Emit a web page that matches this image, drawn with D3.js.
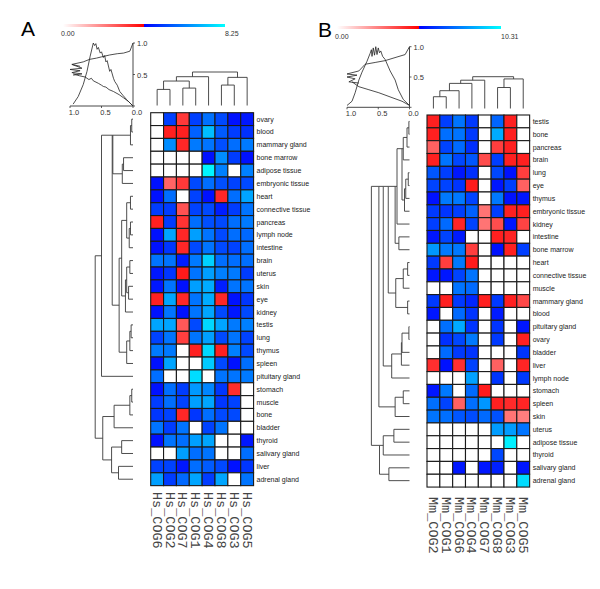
<!DOCTYPE html>
<html><head><meta charset="utf-8">
<script src="https://cdn.jsdelivr.net/npm/d3@7"></script>
<style>body{margin:0;background:#fff}svg{display:block}</style>
</head><body>
<svg id="c" width="600" height="589"></svg>
<script>
// ---------------- DATA ----------------
const tissuesA = ["ovary","blood","mammary gland","bone marrow","adipose tissue","embryonic tissue","heart","connective tissue","pancreas","lymph node","intestine","brain","uterus","skin","eye","kidney","testis","lung","thymus","spleen","pituitary gland","stomach","muscle","bone","bladder","thyroid","salivary gland","liver","adrenal gland"];
const colsA = ["Hs_COG6","Hs_COG2","Hs_COG7","Hs_COG1","Hs_COG4","Hs_COG8","Hs_COG3","Hs_COG5"];
const valuesA = [
 [0,5.15,3.2,5.15,5.95,5.3,4.4,4.5],
 [0,3.6,3.6,5.7,7.2,5.6,5.1,4.9],
 [0,6.4,3.5,6.1,6.0,5.4,5.9,6.1],
 [0,0,0,0,4.4,6.4,5.1,4.4],
 [0,0,0,0,8.1,6.2,0,6.2],
 [4.4,2.5,3.2,5.3,5.9,5.4,5.2,5.3],
 [4.4,5.9,0,5.2,4.4,3.5,5.9,6.8],
 [5.1,5.1,2.8,5.2,5.3,4.6,5.1,6.0],
 [3.6,5.1,3.3,5.9,5.4,5.3,5.9,6.1],
 [4.4,6.8,3.5,6.7,6.0,5.3,5.9,5.8],
 [4.4,5.0,3.5,5.3,6.0,5.3,5.2,5.9],
 [6.0,6.0,4.6,6.1,7.5,5.9,5.9,5.9],
 [4.5,5.0,3.7,6.0,6.7,6.2,6.1,5.1],
 [4.5,6.0,4.4,6.7,6.9,4.6,6.0,6.0],
 [3.6,6.8,3.5,6.0,6.9,3.5,4.4,5.0],
 [4.4,6.0,4.4,6.0,6.8,5.3,4.5,5.3],
 [6.8,6.8,2.7,5.3,7.6,6.8,6.1,6.2],
 [5.2,6.0,3.1,6.0,6.7,5.3,6.0,5.2],
 [6.1,6.1,0,3.6,7.6,3.6,6.2,5.3],
 [4.4,6.8,0,0,7.4,5.3,4.4,5.9],
 [5.9,0,0,7.7,0,6.0,6.0,6.1],
 [4.4,5.9,5.1,6.6,6.3,5.0,3.4,0],
 [5.1,5.9,5.2,6.7,6.8,5.0,5.2,0],
 [5.0,5.2,3.5,5.0,5.9,5.3,5.3,0],
 [6.0,5.1,6.0,0,5.2,6.0,0,0],
 [4.4,6.0,5.9,6.7,6.8,0,0,4.5],
 [0,0,6.7,5.9,6.0,0,0,5.9],
 [5.2,5.2,4.5,5.9,5.6,5.3,4.4,5.0],
 [6.7,5.1,5.8,6.8,5.1,6.8,0,6.0]
];
const maxA = 8.25;
const keyLabelsA = ["0.00","8.25"];

const tissuesB = ["testis","bone","pancreas","brain","lung","eye","thymus","embryonic tissue","kidney","intestine","bone marrow","heart","connective tissue","muscle","mammary gland","blood","pituitary gland","ovary","bladder","liver","lymph node","stomach","spleen","skin","uterus","adipose tissue","thyroid","salivary gland","adrenal gland"];
const colsB = ["Mm_COG2","Mm_COG1","Mm_COG6","Mm_COG4","Mm_COG7","Mm_COG8","Mm_COG3","Mm_COG5"];
const valuesB = [
 [4.5,6.4,7.5,6.3,0,7.2,4.5,0],
 [4.5,7.4,7.5,6.3,0,8.6,4.5,0],
 [3.2,6.5,7.3,6.1,0,3.9,4.5,0],
 [4.5,7.5,6.6,6.9,3.6,6.4,4.5,4.5],
 [6.9,6.4,5.6,6.1,0,6.6,5.5,3.9],
 [6.5,6.5,6.2,4.6,0,5.6,6.4,3.2],
 [5.5,7.6,7.6,6.5,0,7.6,5.5,5.6],
 [6.3,6.2,6.4,7.1,2.8,6.4,4.5,4.5],
 [6.4,7.3,4.4,6.5,2.8,3.6,5.6,3.8],
 [5.6,6.5,5.7,0,0,4.5,4.4,0],
 [8.2,7.6,7.6,3.9,0,5.5,4.5,6.4],
 [6.3,3.9,7.6,4.6,0,0,0,0],
 [5.6,5.6,6.5,7.5,0,0,0,0],
 [0,0,7.5,7.3,0,0,0,0],
 [6.3,4.5,6.3,5.9,4.5,6.3,4.5,3.7],
 [5.6,0,7.3,6.2,0,5.7,0,0],
 [0,7.4,8.6,6.2,0,6.2,0,5.6],
 [0,6.1,6.6,7.6,0,6.3,0,4.5],
 [0,7.3,6.3,6.2,0,0,0,6.2],
 [4.2,5.5,4.2,6.5,0,3.2,0,4.4],
 [0,0,0,8.4,0,6.2,0,6.3],
 [5.6,7.6,0,7.3,4.6,0,0,0],
 [7.4,6.5,3.2,7.4,8.2,4.5,4.3,4.4],
 [7.5,7.4,6.9,6.7,7.3,6.8,2.8,2.6],
 [0,0,0,0,0,8.3,8.3,7.5],
 [0,0,0,0,0,0,10.0,0],
 [0,0,0,0,0,6.6,0,0],
 [0,0,5.6,0,5.6,5.8,0,5.6],
 [0,0,0,0,0,0,0,9.6]
];
const maxB = 10.31;
const keyLabelsB = ["0.00","10.31"];

// dendrograms: [left, right, height, anchoredToFirstChild?]; leaves are row/column indices
const rowTreeA = [
 [
  [
   [
    [[0,1,0.02],2,0.04],
    [[3,4,0.15],5,0.17],
    0.32, 1],
   [
    [
     [[6,7,0.04],[[8,9,0.04],10,0.06],0.1],
     [[[11,12,0.05],[13,14,0.07],0.1],15,0.12],
     0.18],
    [[[16,17,0.03],18,0.05],19,0.1],
    0.22],
   0.33, 1],
  20, 0.5],
 [
  [[[21,22,0.02],23,0.05],24,0.3],
  [[25,26,0.18],[27,28,0.23],0.34],
  0.48],
 0.6];
const colTreeA = [[[[0,1,0.48],[2,3,0.52],0.73],4,0.86],[[5,6,0.61],7,0.84],1.0];

const rowTreeB = [
 [
  [
   [
    [
     [
      [[[[0,1,0.01],2,0.04],3,0.1],[[[4,5,0.02],6,0.06],7,0.08],0.12,1],
      8, 0.2],
     [9,10,0.17], 0.23, 1],
    [[[11,12,0.03],13,0.1],[14,15,0.03],0.22],
    0.34, 1],
   [[[[16,17,0.01],18,0.12],19,0.13],20,0.285],
   0.42, 1],
  [[21,22,0.1],23,0.23],
  0.49, 1],
 [[[24,25,0.25],26,0.42],[27,28,0.33],0.48,1],
 0.61];
const colTreeB = [[[[[0,1,0.37],2,0.56],3,0.79],4,0.89],[[5,6,0.66],7,0.93],1.0];

// small distribution plots beside the colour key: [x value (1..0), y value (0..1)]
const histA = [
 [[0.95,0.03],[0.87,0.15],[0.79,0.34],[0.73,0.55],[0.68,0.79],[0.63,1.0],[0.61,0.96],[0.59,0.99],[0.57,0.9],[0.55,0.93],[0.52,0.84],[0.5,0.86],[0.47,0.77],[0.45,0.8],[0.43,0.7],[0.41,0.72],[0.37,0.55],[0.35,0.58],[0.31,0.44],[0.29,0.39],[0.25,0.33],[0.21,0.23],[0.16,0.17],[0.1,0.1],[0,0]],
 [[0.84,0.63],[0.97,0.66],[0.81,0.6],[1.0,0.58],[0.84,0.56],[0.97,0.53],[0.81,0.51],[0.95,0.49]],
 [[0.97,0.66],[0.79,0.7],[0.69,0.74],[0.58,0.76],[0.5,0.78],[0.37,0.81],[0.25,0.83],[0.15,0.84],[0.05,0.87],[0,1.0]],
 [[0.95,0.51],[0.85,0.48],[0.76,0.46],[0.7,0.42],[0.66,0.44],[0.63,0.4],[0.55,0.36],[0.5,0.33],[0.47,0.31],[0.43,0.3],[0.38,0.26],[0.31,0.23],[0.22,0.18],[0.15,0.13],[0.07,0.07],[0,0]]
];
const histB = [
 [[1.0,0.03],[0.92,0.1],[0.87,0.24],[0.81,0.45],[0.76,0.58],[0.68,0.76],[0.63,0.89],[0.61,0.95],[0.6,0.84],[0.58,0.98],[0.56,0.86],[0.54,1.0],[0.52,0.87],[0.5,0.98],[0.48,0.9],[0.46,0.93],[0.43,0.84],[0.39,0.79],[0.31,0.6],[0.23,0.45],[0.18,0.29],[0.1,0.13],[0,0.03]],
 [[0.81,0.6],[1.0,0.55],[0.84,0.53],[1.0,0.5],[0.87,0.47],[0.97,0.42],[0.81,0.4]],
 [[0.81,0.6],[0.71,0.71],[0.55,0.74],[0.39,0.77],[0.2,0.83],[0.07,0.87],[0,1.0]],
 [[0.92,0.42],[0.81,0.34],[0.65,0.29],[0.49,0.24],[0.28,0.16],[0.12,0.1],[0,0.03]]
];
const histTicks = [1.0, 0.5, 0.0];

// ---------------- DRAWING ----------------
const svg = d3.select("#c");
const defs = svg.append("defs");
const SANS = "Liberation Sans, Arial, sans-serif";

function colorScale(max){
  const mid = max/2;
  const lo = d3.interpolateRgb("#ffffff","#ff0000");
  const hi = d3.interpolateRgb("#0000ff","#00ffff");
  return v => v < mid ? lo(v/mid) : hi((v-mid)/(max-mid));
}

function drawPanel(cfg, rows, cols, vals, max, keyLabels, rowTree, colTree, hist){
  const g = svg.append("g");
  const col = colorScale(max);
  g.append("text").attr("x",cfg.letterX).attr("y",cfg.letterY)
    .attr("font-family",SANS).attr("font-size",21).attr("fill","#000").text(cfg.letter);

  const gid = "grad"+cfg.letter;
  const gr = defs.append("linearGradient").attr("id",gid);
  [[0,"#ffffff"],[0.5,"#ff0000"],[0.5,"#0000ff"],[1,"#00ffff"]].forEach(s=>gr.append("stop").attr("offset",s[0]).attr("stop-color",s[1]));
  g.append("rect").attr("x",cfg.barX0).attr("y",cfg.barY).attr("width",cfg.barX1-cfg.barX0).attr("height",cfg.barH).attr("fill",`url(#${gid})`);
  g.append("text").attr("x",cfg.barX0-2).attr("y",cfg.keyY).text(keyLabels[0])
    .attr("font-family",SANS).attr("font-size",7).attr("fill","#333");
  g.append("text").attr("x",cfg.barX1).attr("y",cfg.keyY).text(keyLabels[1])
    .attr("font-family",SANS).attr("font-size",7).attr("fill","#333");

  const hx = d3.scaleLinear().domain([1,0]).range([cfg.histL, cfg.histR]);
  const hy = d3.scaleLinear().domain([0,1]).range([cfg.histB, cfg.histT]);
  const line = d3.line().x(d=>hx(d[0])).y(d=>hy(d[1]));
  hist.forEach(h => g.append("path").attr("d",line(h)).attr("fill","none").attr("stroke","#222").attr("stroke-width",0.8));
  g.append("path").attr("d",`M${cfg.histL},${cfg.histB}H${cfg.histR}V${cfg.histT}`).attr("fill","none").attr("stroke","#333").attr("stroke-width",0.9);
  histTicks.forEach(t=>{
    g.append("line").attr("x1",hx(t)).attr("x2",hx(t)).attr("y1",cfg.histB).attr("y2",cfg.histB+2).attr("stroke","#333").attr("stroke-width",0.8);
    g.append("line").attr("x1",cfg.histR).attr("x2",cfg.histR+2).attr("y1",hy(t)).attr("y2",hy(t)).attr("stroke","#333").attr("stroke-width",0.8);
    g.append("text").attr("x",hx(t)+4).attr("y",cfg.histB+9).attr("text-anchor","middle").text(t.toFixed(1))
      .attr("font-family",SANS).attr("font-size",7.5).attr("fill","#333");
    if (t>0) g.append("text").attr("x",cfg.histR+4).attr("y",hy(t)+3).text(t.toFixed(1))
      .attr("font-family",SANS).attr("font-size",7.5).attr("fill","#333");
  });

  const xb = d3.scaleBand().domain(d3.range(cols.length)).range([cfg.hmX, cfg.hmX+cfg.cell*cols.length]);
  const yb = d3.scaleBand().domain(d3.range(rows.length)).range([cfg.hmY, cfg.hmY+cfg.cell*rows.length]);
  const cells = [];
  vals.forEach((r,i)=>r.forEach((v,j)=>cells.push({i,j,v})));
  g.append("g").selectAll("rect").data(cells).join("rect")
    .attr("x",d=>xb(d.j)).attr("y",d=>yb(d.i)).attr("width",xb.bandwidth()).attr("height",yb.bandwidth())
    .attr("fill",d=>col(d.v)).attr("stroke","#1a1a1a").attr("stroke-width",1.1);

  g.append("g").selectAll("text").data(rows).join("text")
    .attr("x",xb.range()[1]+3).attr("y",(d,i)=>yb(i)+yb.bandwidth()/2+2.5).text(d=>d)
    .attr("font-family",SANS).attr("font-size",7).attr("fill","#222");
  g.append("g").selectAll("text").data(cols).join("text")
    .attr("transform",(d,j)=>`translate(${xb(j)+xb.bandwidth()/2},${cfg.colLabY}) rotate(90)`)
    .attr("dy","0.33em").text(d=>d)
    .attr("font-family","Liberation Mono, Courier New, monospace").attr("font-size",13.5).attr("fill","#444");

  // generic dendrogram layout: pos(leaf) -> coordinate along the leaf axis
  function layout(tree, pos, seg){
    const out = [];
    (function lay(n){
      if (typeof n === "number") return {p: pos(n), h: 0};
      const a = lay(n[0]), b = lay(n[1]);
      out.push(seg(a, b, n[2]));
      return {p: n[3] ? a.p : (a.p+b.p)/2, h: n[2]};
    })(tree);
    return out;
  }
  const rowPaths = layout(rowTree, i => yb(i)+yb.bandwidth()/2,
    (a,b,h) => `M${hx(a.h)},${a.p}H${hx(h)}V${b.p}H${hx(b.h)}`);
  g.append("g").selectAll("path").data(rowPaths).join("path").attr("d",d=>d)
    .attr("fill","none").attr("stroke","#3a3a3a").attr("stroke-width",0.9);

  const cy = d3.scaleLinear().domain([0,1]).range([cfg.colLeafY, cfg.colRootY]);
  const colPaths = layout(colTree, j => xb(j)+xb.bandwidth()/2,
    (a,b,h) => `M${a.p},${cy(a.h)}V${cy(h)}H${b.p}V${cy(b.h)}`);
  g.append("g").selectAll("path").data(colPaths).join("path").attr("d",d=>d)
    .attr("fill","none").attr("stroke","#3a3a3a").attr("stroke-width",0.9);
}

drawPanel({letter:"A",letterX:21,letterY:36,barX0:63,barX1:225,barY:24,barH:3,keyY:36,
  histL:70,histR:133,histT:43,histB:106,hmX:150.7,hmY:112.7,cell:12.86,colLeafY:105.5,colRootY:72,colLabY:492},
  tissuesA, colsA, valuesA, maxA, keyLabelsA, rowTreeA, colTreeA, histA);
drawPanel({letter:"B",letterX:318,letterY:37,barX0:337,barX1:501,barY:26,barH:3,keyY:39,
  histL:347,histR:409.5,histT:46.7,histB:107.3,hmX:427,hmY:115,cell:12.83,colLeafY:108.5,colRootY:76.7,colLabY:497},
  tissuesB, colsB, valuesB, maxB, keyLabelsB, rowTreeB, colTreeB, histB);
</script>
</body></html>
